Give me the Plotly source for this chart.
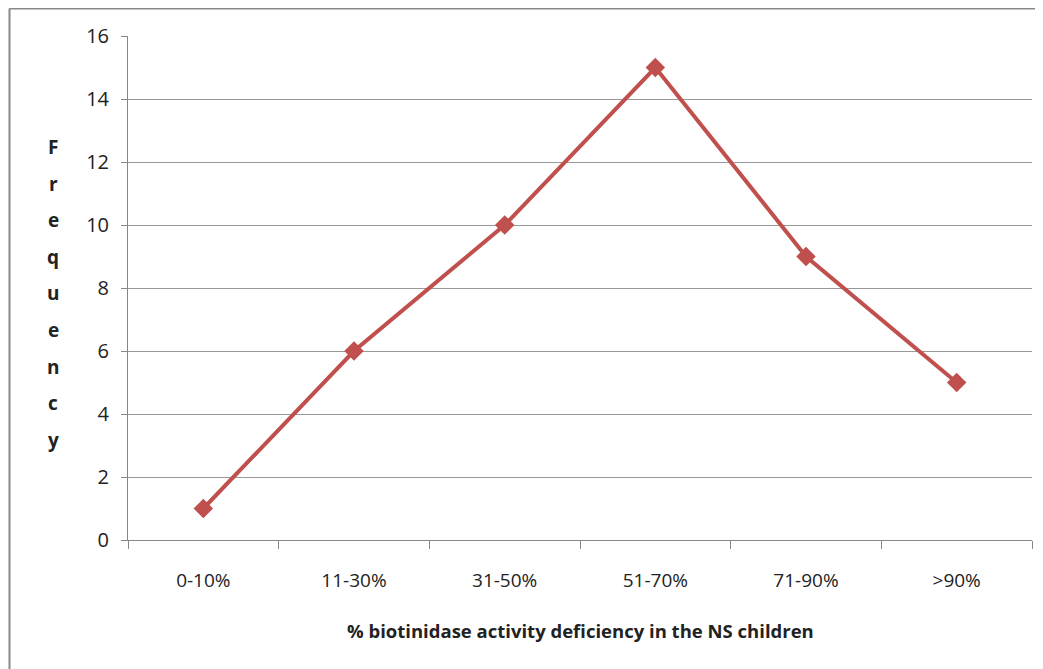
import plotly.graph_objects as go

categories = ["0-10%", "11-30%", "31-50%", "51-70%", "71-90%", ">90%"]
frequency = [1, 6, 10, 15, 9, 5]
y_ticks = [0, 2, 4, 6, 8, 10, 12, 14, 16]
y_title_letters = list("Frequency")
x_title = "% biotinidase activity deficiency in the NS children"

# page body has an 8px default margin; figure is offset by it
OFF = 8
W, H = 1043 - OFF, 669 - OFF
L, R, T, B = 128 - OFF, 11, 36 - OFF, 129
pw, ph = W - L - R, H - T - B

def px_x(x):
    return (x - OFF - L) / pw

def px_y(y):
    return (H - B - (y - OFF)) / ph

fig = go.Figure()
fig.add_trace(go.Scatter(
    x=categories, y=frequency, mode="lines+markers",
    line=dict(color="#C0504D", width=4),
    marker=dict(symbol="diamond", size=15, color="#C0504D"),
    showlegend=False,
))

font_family = "Open Sans"
fig.update_layout(
    width=W, height=H,
    margin=dict(l=L, r=R, t=T, b=B),
    paper_bgcolor="white", plot_bgcolor="white",
    font=dict(family=font_family, color="#222222", size=18),
    xaxis=dict(
        type="category", tickson="boundaries", ticks="outside", ticklen=8,
        tickcolor="#888888", showline=True, linecolor="#888888", linewidth=1,
        showgrid=False, tickfont=dict(size=19), range=[-0.5, 5.5],
        ticklabelstandoff=23,
    ),
    yaxis=dict(
        range=[0, 16], tickvals=y_ticks, ticks="outside", ticklen=6,
        tickcolor="#888888", showline=True, linecolor="#888888", linewidth=1,
        showgrid=True, gridcolor="#999999", gridwidth=1, zeroline=False,
        tickfont=dict(size=20), ticklabelstandoff=8,
    ),
)

annotations = []
for i, ch in enumerate(y_title_letters):
    annotations.append(dict(
        text=f"<b>{ch}</b>", x=px_x(53), y=px_y(147 + i * 36.6),
        xref="paper", yref="paper", showarrow=False,
        xanchor="center", yanchor="middle", font=dict(size=19, family=font_family),
    ))
annotations.append(dict(
    text=f"<b>{x_title}</b>", x=px_x(580), y=px_y(630),
    xref="paper", yref="paper", showarrow=False,
    xanchor="center", yanchor="middle", font=dict(size=18.5, family=font_family),
))
fig.update_layout(annotations=annotations)

shapes = [
    dict(type="line", xref="paper", yref="paper", x0=px_x(9.5), x1=px_x(1045),
         y0=px_y(8.5), y1=px_y(8.5), line=dict(color="#888888", width=2)),
    dict(type="line", xref="paper", yref="paper", x0=px_x(9.5), x1=px_x(9.5),
         y0=px_y(8.5), y1=px_y(672), line=dict(color="#888888", width=2)),
]
fig.update_layout(shapes=shapes)

fig.write_html("out.html")
